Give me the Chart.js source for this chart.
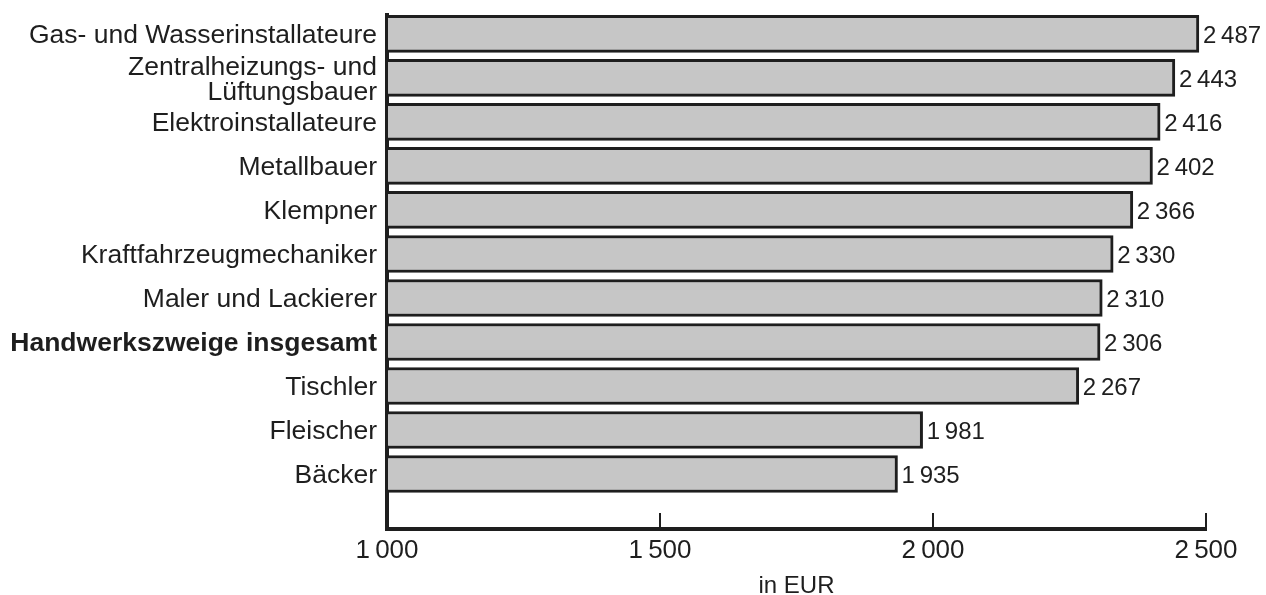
<!DOCTYPE html>
<html>
<head>
<meta charset="utf-8">
<script src="https://cdn.jsdelivr.net/npm/chart.js@4/dist/chart.umd.min.js"></script>
<style>
  html, body { margin: 0; padding: 0; background: #ffffff; }
  #wrap { width: 1266px; height: 595px; position: relative; }
</style>
</head>
<body>
<div id="wrap"><canvas id="c"></canvas></div>
<script>
const categories = [
  'Gas- und Wasserinstallateure',
  ['Zentralheizungs- und', 'Lüftungsbauer'],
  'Elektroinstallateure',
  'Metallbauer',
  'Klempner',
  'Kraftfahrzeugmechaniker',
  'Maler und Lackierer',
  'Handwerkszweige insgesamt',
  'Tischler',
  'Fleischer',
  'Bäcker'
];
const values = [2487, 2443, 2416, 2402, 2366, 2330, 2310, 2306, 2267, 1981, 1935];
const highlightIndex = 7;
const xTicks = [1000, 1500, 2000, 2500];
const axisTitle = 'in EUR';

const FAMILY = '"Liberation Sans", Arial, Helvetica, sans-serif';
const INK = '#1e1e1e';

function fmt(v) {
  return String(v).replace(/\B(?=(\d{3})+(?!\d))/g, '\u2009');
}

const valueLabels = {
  id: 'valueLabels',
  afterDatasetsDraw(chart) {
    const ctx = chart.ctx;
    const meta = chart.getDatasetMeta(0);
    ctx.save();
    ctx.font = '24px ' + FAMILY;
    ctx.fillStyle = INK;
    ctx.textAlign = 'left';
    ctx.textBaseline = 'middle';
    meta.data.forEach((bar, i) => {
      ctx.fillText(fmt(values[i]), bar.x + 4, bar.y + 2);
    });
    ctx.restore();
  }
};

new Chart(document.getElementById('c'), {
  type: 'bar',
  data: {
    datasets: [{
      data: values.map((v, i) => ({ x: v, y: i })),
      base: 1000,
      backgroundColor: '#c6c6c6',
      borderColor: INK,
      borderWidth: 3,
      borderSkipped: 'start',
      barThickness: 37
    }]
  },
  options: {
    indexAxis: 'y',
    responsive: true,
    maintainAspectRatio: false,
    animation: false,
    devicePixelRatio: 1,
    layout: { padding: { top: 15, right: 60, left: 0, bottom: 0 } },
    plugins: { legend: { display: false }, tooltip: { enabled: false } },
    scales: {
      x: {
        type: 'linear',
        position: 'bottom',
        min: 1000,
        max: 2500,
        offset: false,
        afterBuildTicks: s => { s.ticks = xTicks.map(v => ({ value: v })); },
        afterFit: s => { s.height = 66; s.paddingLeft = 0; s.paddingRight = 0; },
        grid: {
          drawOnChartArea: false,
          drawTicks: true,
          tickLength: -16,
          lineWidth: 2,
          color: INK
        },
        border: { display: true, width: 4, color: INK },
        ticks: {
          padding: 22,
          color: INK,
          font: { family: FAMILY, size: 26 },
          maxRotation: 0,
          callback: v => fmt(v)
        },
        title: {
          display: true,
          text: axisTitle,
          color: INK,
          font: { family: FAMILY, size: 24, lineHeight: 1 },
          padding: { top: 0, bottom: -3 }
        }
      },
      y: {
        type: 'linear',
        reverse: true,
        offset: false,
        min: -0.43,
        max: 11.25,
        afterBuildTicks: s => { s.ticks = categories.map((c, i) => ({ value: i })); },
        afterFit: s => { s.width = 387; s.paddingTop = 0; s.paddingBottom = 0; },
        grid: { display: false, drawTicks: false, offset: false },
        border: { display: true, width: 4, color: INK },
        ticks: {
          padding: 10,
          labelOffset: 2,
          color: INK,
          autoSkip: false,
          font: ctx => ({
            family: FAMILY,
            size: 26.5,
            lineHeight: 0.95,
            weight: (ctx.tick && ctx.tick.value === highlightIndex) ? 'bold' : 'normal'
          }),
          callback: v => categories[v]
        }
      }
    }
  },
  plugins: [valueLabels]
});
</script>
</body>
</html>
